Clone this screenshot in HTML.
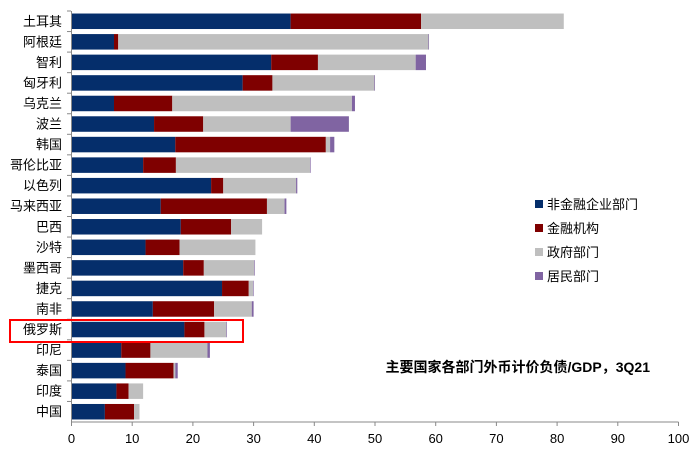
<!DOCTYPE html>
<html><head><meta charset="utf-8"><style>
body{margin:0;background:#fff}
svg{display:block;font-family:"Liberation Sans","Noto Sans CJK SC",sans-serif}
</style></head><body>
<svg id="chart" width="698" height="459"></svg>
<script>
const categories=["土耳其","阿根廷","智利","匈牙利","乌克兰","波兰","韩国","哥伦比亚","以色列","马来西亚","巴西","沙特","墨西哥","捷克","南非","俄罗斯","印尼","泰国","印度","中国"];
const nonFinancial=[36.1,7.0,32.9,28.2,7.0,13.6,17.1,11.8,23.0,14.7,18.0,12.2,18.4,24.8,13.4,18.6,8.2,8.9,7.4,5.5];
const financial=[21.5,0.7,7.7,4.9,9.6,8.1,24.8,5.4,2.0,17.5,8.3,5.6,3.4,4.4,10.1,3.3,4.8,7.9,2.0,4.8];
const government=[23.5,51.1,16.1,16.8,29.6,14.4,0.7,22.1,12.0,2.9,5.1,12.5,8.3,0.7,6.2,3.6,9.4,0.3,2.4,0.9];
const household=[0,0.1,1.7,0.1,0.5,9.6,0.7,0.1,0.2,0.3,0,0,0.1,0.1,0.3,0.1,0.4,0.4,0,0];
const xTicks=[0,10,20,30,40,50,60,70,80,90,100];
const seriesNames=["非金融企业部门","金融机构","政府部门","居民部门"];
const colors=["#052e6b","#7f0000","#bfbfbf","#8064a2"];
const NS="http://www.w3.org/2000/svg";
const svg=document.getElementById('chart');
const X0=71.5,PX=6.07,Y0=11,PITCH=20.55,BH=15.5;
const xs=v=>X0+v*PX;
const ys=i=>Y0+i*PITCH+(PITCH-BH)/2;
function mk(tag,attrs,parent){const e=document.createElementNS(NS,tag);for(const k in attrs)e.setAttribute(k,attrs[k]);(parent||svg).appendChild(e);return e;}
const series=[nonFinancial,financial,government,household];
const segNames=["bar-nonfinancial","bar-financial","bar-government","bar-household"];
categories.forEach((c,i)=>{
  let acc=0;
  series.forEach((s,k)=>{
    const v=s[i];
    if(v>0){
      const r=mk('rect',{x:xs(acc),y:ys(i),width:v*PX,height:BH,fill:colors[k]});
      
      
    }
    acc+=v;
  });
  const t=mk('text',{x:62,y:ys(i)+BH/2+4.5,'text-anchor':'end','font-size':13,fill:'#000'});
  t.textContent=c;
  
  
  const tk=mk('line',{x1:67,x2:71,y1:Y0+i*PITCH,y2:Y0+i*PITCH,stroke:'#888'});
  
  
});
const ya=mk('line',{x1:71.5,x2:71.5,y1:Y0,y2:422,stroke:'#888'});


const xa=mk('line',{x1:71.5,x2:xs(100),y1:422,y2:422,stroke:'#888'});


xTicks.forEach(v=>{
  const l=mk('line',{x1:xs(v),x2:xs(v),y1:422,y2:426,stroke:'#888'});
  
  
  const t=mk('text',{x:xs(v),y:443,'text-anchor':'middle','font-size':13,fill:'#000'});
  t.textContent=v;
  
  
});
seriesNames.forEach((n,k)=>{
  const y=204+k*24;
  const r=mk('rect',{x:535,y:y-4,width:8,height:8,fill:colors[k]});
  
  
  const t=mk('text',{x:547,y:y+5,'font-size':13,fill:'#000'});
  t.textContent=n;
  
  
});
const hl=mk('rect',{x:10,y:320,width:233,height:22,fill:'none',stroke:'#ff0000','stroke-width':2});


const title=mk('text',{x:650,y:372,'text-anchor':'end','font-size':14,'font-weight':'bold',fill:'#000'});
title.textContent="主要国家各部门外币计价负债/GDP，3Q21";


</script>
</body></html>
